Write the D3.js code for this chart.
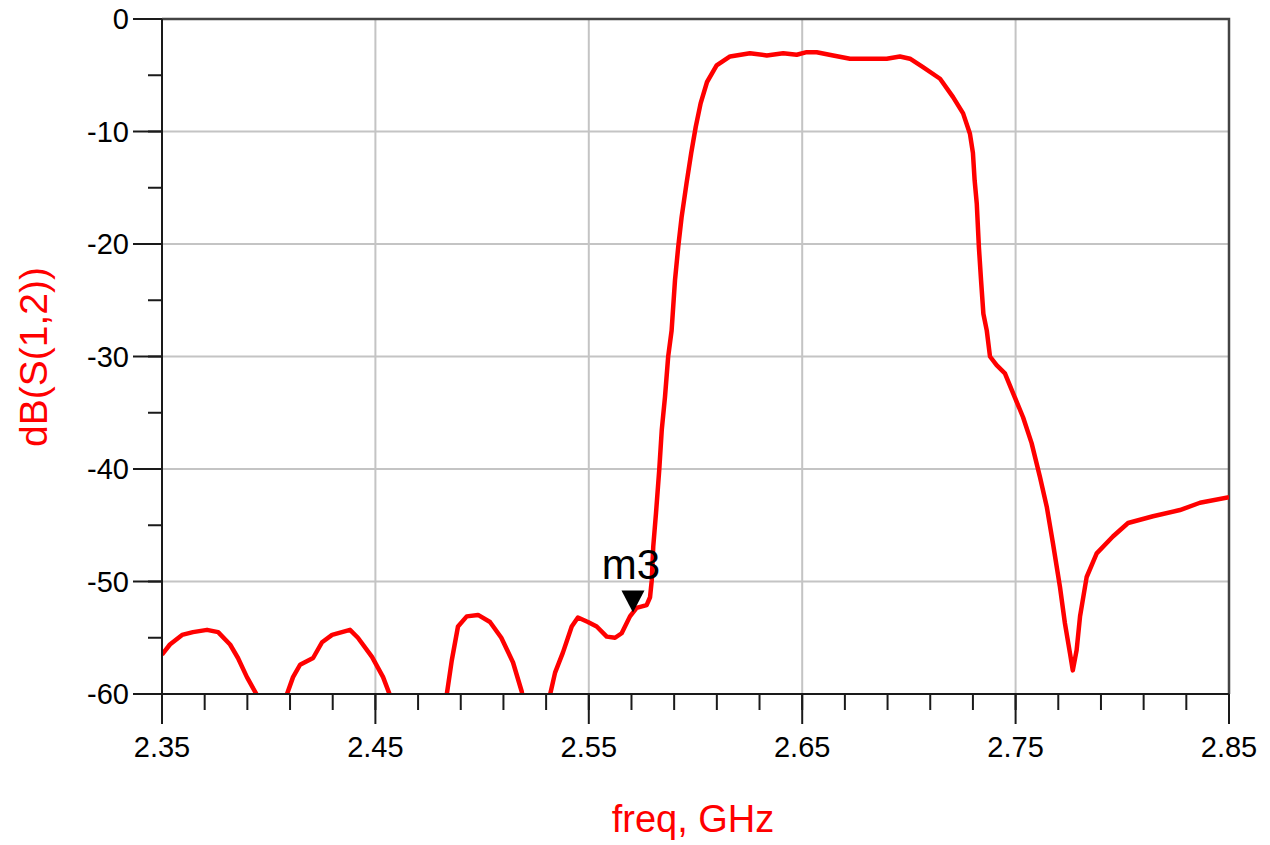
<!DOCTYPE html>
<meta charset="utf-8">

<style type="text/css">
	body { margin: 0; background: #fff; }
	text { font-family: "Liberation Sans", Arial, sans-serif; }

	.grid line { stroke: #c4c4c4; stroke-width: 2; }
	.tick-mark { stroke: #1a1a1a; stroke-width: 2; }
	.frame { fill: none; stroke: #444; stroke-width: 2.5; }

	/* the S(1,2) trace */
	.line {
	    fill: none;
	    stroke: #ff0000;
	    stroke-width: 4.5;
	    stroke-linejoin: round;
	}
</style>
<body>
</body>

<script src="https://d3js.org/d3.v7.min.js"></script>
<script>

// frequency points (GHz) and dB(S(1,2))
// values below -60 are off the bottom of the plot and get clipped
var freq = [2.3500, 2.3537, 2.3594, 2.3645, 2.3711, 2.3763, 2.3819, 2.3856, 2.3898, 2.3945,
            2.3990, 2.4040,
            2.4084, 2.4114, 2.4147, 2.4208, 2.4250, 2.4297, 2.4381, 2.4418, 2.4484, 2.4536, 2.4568,
            2.4610, 2.4790,
            2.4834, 2.4858, 2.4887, 2.4928, 2.4981, 2.5037, 2.5090, 2.5145, 2.5186,
            2.5220, 2.5290,
            2.5318, 2.5342, 2.5379, 2.5420, 2.5449, 2.5496, 2.5537, 2.5584, 2.5623, 2.5654,
            2.5693, 2.5724, 2.5771, 2.5787, 2.5795, 2.5802, 2.5815, 2.5830, 2.5842, 2.5857,
            2.5872, 2.5888, 2.5904, 2.5919, 2.5935, 2.5958, 2.5980, 2.6001, 2.6024, 2.6054,
            2.6099, 2.6162, 2.6255, 2.6334, 2.6411, 2.6474, 2.6521, 2.6568, 2.6645, 2.6724,
            2.6896, 2.6958, 2.7005, 2.7066, 2.7146, 2.7207, 2.7254, 2.7286, 2.7300, 2.7308,
            2.7318, 2.7328, 2.7338, 2.7349, 2.7365, 2.7380, 2.7411, 2.7450, 2.7489, 2.7535,
            2.7575, 2.7614, 2.7646, 2.7675, 2.7708, 2.7731, 2.7755, 2.7768, 2.7786, 2.7802,
            2.7833, 2.7880, 2.7956, 2.8027, 2.8144, 2.8270, 2.8364, 2.8500];

var s12 = [-56.5, -55.6, -54.75, -54.5, -54.3, -54.5, -55.6, -56.8, -58.5, -60.1,
           -64, -64,
           -60.1, -58.5, -57.4, -56.8, -55.4, -54.75, -54.3, -55.0, -56.7, -58.5, -60.1,
           -64, -64,
           -60.1, -57.0, -54.0, -53.1, -52.97, -53.6, -55.0, -57.2, -59.8,
           -64, -64,
           -60.1, -58.1, -56.3, -54.0, -53.2, -53.6, -54.0, -54.9, -55.0, -54.6,
           -53.1, -52.35, -52.1, -51.4, -49.9, -46.9, -43.9, -40.1, -36.5, -33.6,
           -30.0, -27.7, -23.2, -20.27, -17.6, -14.6, -11.9, -9.6, -7.5, -5.6,
           -4.13, -3.33, -3.04, -3.24, -3.04, -3.18, -2.95, -2.95, -3.24, -3.53,
           -3.53, -3.33, -3.53, -4.28, -5.31, -6.94, -8.39, -10.2, -11.9, -14.34,
           -16.4, -20.27, -23.2, -26.2, -27.7, -30.0, -30.77, -31.5, -33.3, -35.4,
           -37.7, -40.7, -43.35, -46.6, -50.5, -53.7, -56.4, -57.9, -56.1, -53.1,
           -49.6, -47.5, -46.0, -44.8, -44.2, -43.65, -43.0, -42.5];

// axis ticks
var xMajor = [2.35, 2.45, 2.55, 2.65, 2.75, 2.85];
var xLabels = ["2.35", "2.45", "2.55", "2.65", "2.75", "2.85"];
var xMinor = d3.range(2.35, 2.8501, 0.02);
var yMajor = [0, -10, -20, -30, -40, -50, -60];
var yLabels = ["0", "-10", "-20", "-30", "-40", "-50", "-60"];
var yMinor = d3.range(0, -60.01, -5);

// marker m3
var markerName = "m3";
var markerFreq = 2.5707;
var markerDb = -52.75;

// plot area in page pixels
var margin = {top: 19, right: 41, bottom: 151, left: 162}
  , W = 1270, H = 845
  , width = W - margin.left - margin.right
  , height = H - margin.top - margin.bottom;

var xScale = d3.scaleLinear()
    .domain([2.35, 2.85])
    .range([0, width]);
var yScale = d3.scaleLinear()
    .domain([0, -60])
    .range([0, height]);

var line = d3.line()
    .x(function(d) { return xScale(d[0]); })
    .y(function(d) { return yScale(d[1]); });

var svg = d3.select("body").append("svg")
    .attr("width", W)
    .attr("height", H);

var g = svg.append("g")
    .attr("transform", "translate(" + margin.left + "," + margin.top + ")");

g.append("clipPath").attr("id", "plot-clip")
  .append("rect")
    .attr("width", width)
    .attr("height", height);

// grid lines at the major ticks
var grid = g.append("g").attr("class", "grid");
grid.selectAll(".gx").data(xMajor.slice(1, -1)).enter().append("line")
    .attr("x1", xScale).attr("x2", xScale)
    .attr("y1", 0).attr("y2", height);
grid.selectAll(".gy").data(yMajor.slice(1, -1)).enter().append("line")
    .attr("y1", yScale).attr("y2", yScale)
    .attr("x1", 0).attr("x2", width);

// top and right sides of the frame
g.append("path")
    .attr("class", "frame")
    .attr("d", "M0,0H" + width + "V" + height);

// trace
g.append("path")
    .datum(d3.zip(freq, s12))
    .attr("class", "line")
    .attr("clip-path", "url(#plot-clip)")
    .attr("d", line);

// x axis: ticks hang below the axis line
g.append("line").attr("class", "tick-mark")
    .attr("x1", 0).attr("x2", width).attr("y1", height).attr("y2", height);
g.selectAll(".xminor").data(xMinor).enter().append("line")
    .attr("class", "tick-mark")
    .attr("x1", xScale).attr("x2", xScale)
    .attr("y1", height).attr("y2", height + 16);
g.selectAll(".xmajor").data(xMajor).enter().append("line")
    .attr("class", "tick-mark")
    .attr("x1", xScale).attr("x2", xScale)
    .attr("y1", height).attr("y2", height + 30);
g.selectAll(".xlab").data(xMajor).enter().append("text")
    .attr("x", xScale)
    .attr("y", height + 63)
    .attr("text-anchor", "middle")
    .style("font-size", "29px")
    .text(function(d, i) { return xLabels[i]; });

// y axis: ticks stick out to the left
g.append("line").attr("class", "tick-mark")
    .attr("x1", 0).attr("x2", 0).attr("y1", 0).attr("y2", height + 30);
g.selectAll(".yminor").data(yMinor).enter().append("line")
    .attr("class", "tick-mark")
    .attr("y1", yScale).attr("y2", yScale)
    .attr("x1", -14).attr("x2", 0);
g.selectAll(".ymajor").data(yMajor).enter().append("line")
    .attr("class", "tick-mark")
    .attr("y1", yScale).attr("y2", yScale)
    .attr("x1", -29).attr("x2", 0);
g.selectAll(".ylab").data(yMajor).enter().append("text")
    .attr("x", -33)
    .attr("y", function(d) { return yScale(d) + 10; })
    .attr("text-anchor", "end")
    .style("font-size", "29px")
    .text(function(d, i) { return yLabels[i]; });

// axis titles
svg.append("text")
    .attr("x", 693)
    .attr("y", 832)
    .attr("text-anchor", "middle")
    .attr("fill", "#ff0000")
    .style("font-size", "38px")
    .text("freq, GHz");

svg.append("text")
    .attr("transform", "translate(47,357) rotate(-90)")
    .attr("text-anchor", "middle")
    .attr("fill", "#ff0000")
    .style("font-size", "39px")
    .text("dB(S(1,2))");

// marker m3: black triangle pointing down at the trace
var mx = xScale(markerFreq), my = yScale(markerDb);
g.append("path")
    .attr("d", "M" + mx + "," + my + "l-11.5,-22h23z")
    .attr("fill", "#000");
g.append("text")
    .attr("x", mx - 2)
    .attr("y", my - 33)
    .attr("text-anchor", "middle")
    .style("font-size", "42px")
    .text(markerName);

</script>
